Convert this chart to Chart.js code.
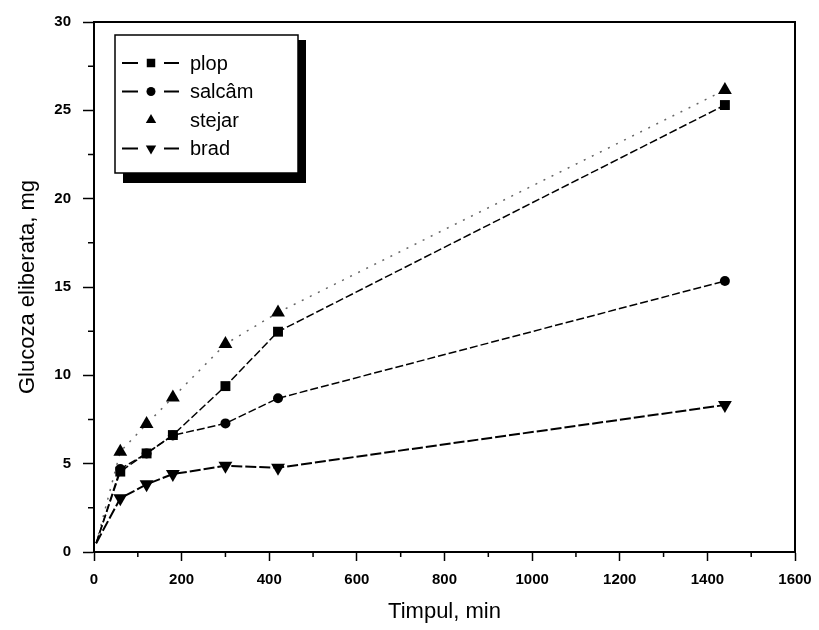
<!DOCTYPE html>
<html>
<head>
<meta charset="utf-8">
<script src="https://cdn.jsdelivr.net/npm/chart.js"></script>
<style>
  body { margin: 0; background: #fff; }
  canvas { display: block; }
</style>
</head>
<body>
<canvas id="chart" width="819" height="630"></canvas>
<script>
// time points (min) and released glucose (mg)
const times = [5, 60, 120, 180, 300, 420, 1440];
const plop = [0.5, 4.55, 5.58, 6.62, 9.39, 12.47, 25.3];
const salcam = [0.5, 4.7, 5.58, 6.6, 7.28, 8.7, 15.34];
const stejar = [0.5, 5.68, 7.24, 8.75, 11.77, 13.56, 26.15];
const brad = [0.5, 3.04, 3.83, 4.41, 4.88, 4.77, 8.32];

const seriesNames = ['plop', 'salcâm', 'stejar', 'brad'];
const xTicks = [0, 200, 400, 600, 800, 1000, 1200, 1400, 1600];
const yTicks = [0, 5, 10, 15, 20, 25, 30];

const toPoints = vals => times.map((t, i) => ({ x: t, y: vals[i] }));
const hideFirst = r => ctx => (ctx.dataIndex === 0 ? 0 : r);

const styles = [
    { pointStyle: 'rect', radius: 7, rotation: 0, dash: [8, 3], width: 1.5, color: '#000' },
    { pointStyle: 'circle', radius: 5, rotation: 0, dash: [8, 3], width: 1.5, color: '#000' },
    { pointStyle: 'triangle', radius: 8, rotation: 0, dash: [2, 7], width: 1.5, color: '#666' },
    { pointStyle: 'triangle', radius: 8, rotation: 180, dash: [11, 3], width: 2, color: '#000' },
];

const datasets = [plop, salcam, stejar, brad].map((vals, i) => ({
    label: seriesNames[i],
    data: toPoints(vals),
    showLine: true,
    borderColor: styles[i].color,
    borderWidth: styles[i].width,
    borderDash: styles[i].dash,
    backgroundColor: '#000',
    pointBackgroundColor: '#000',
    pointBorderColor: '#000',
    pointBorderWidth: 0,
    pointStyle: styles[i].pointStyle,
    pointRotation: styles[i].rotation,
    pointRadius: hideFirst(styles[i].radius),
    pointHoverRadius: hideFirst(styles[i].radius),
}));

// frame, minor ticks and the boxed legend with drop shadow
const framePlugin = {
    id: 'frame',
    afterDraw(chart) {
        const { ctx, chartArea: a, scales } = chart;
        ctx.save();
        ctx.strokeStyle = '#000';
        ctx.lineWidth = 2;
        ctx.beginPath();
        ctx.moveTo(a.left, a.top);
        ctx.lineTo(a.right, a.top);
        ctx.lineTo(a.right, a.bottom);
        ctx.stroke();

        ctx.lineWidth = 1.5;
        ctx.beginPath();
        for (let v = 2.5; v < 30; v += 5) {
            const y = scales.y.getPixelForValue(v);
            ctx.moveTo(a.left, y);
            ctx.lineTo(a.left - 6, y);
        }
        for (let v = 100; v < 1600; v += 200) {
            const x = scales.x.getPixelForValue(v);
            ctx.moveTo(x, a.bottom);
            ctx.lineTo(x, a.bottom + 5);
        }
        ctx.stroke();

        // legend
        const bx = 115, by = 35, bw = 183, bh = 138;
        ctx.fillStyle = '#000';
        ctx.fillRect(bx + 8, by + 5, bw, bh + 5);
        ctx.fillStyle = '#fff';
        ctx.fillRect(bx, by, bw, bh);
        ctx.strokeStyle = '#000';
        ctx.lineWidth = 1.5;
        ctx.strokeRect(bx, by, bw, bh);

        ctx.font = '20px "Liberation Sans", Arial, sans-serif';
        ctx.textBaseline = 'middle';
        ctx.textAlign = 'left';
        seriesNames.forEach((name, i) => {
            const s = styles[i];
            const y = 63 + i * 28.5;
            if (i !== 2) {
                ctx.strokeStyle = '#000';
                ctx.lineWidth = 2;
                ctx.setLineDash([]);
                ctx.beginPath();
                ctx.moveTo(122, y);
                ctx.lineTo(138, y);
                ctx.moveTo(164, y);
                ctx.lineTo(179, y);
                ctx.stroke();
            }
            ctx.fillStyle = '#000';
            Chart.helpers.drawPoint(ctx, {
                pointStyle: s.pointStyle,
                radius: s.pointStyle === 'triangle' ? 6 : (s.pointStyle === 'rect' ? 6 : 4.5),
                rotation: s.rotation,
                borderWidth: 0,
            }, 151, y);
            ctx.fillStyle = '#000';
            ctx.fillText(name, 190, y + 1);
        });
        ctx.restore();
    }
};

const tickFont = { family: '"Liberation Sans", Arial, sans-serif', size: 15, weight: 'bold' };
const titleFont = { family: '"Liberation Sans", Arial, sans-serif', size: 22 };

new Chart(document.getElementById('chart'), {
    type: 'scatter',
    data: { datasets },
    options: {
        responsive: false,
        animation: false,
        layout: { padding: { top: 22, right: 24, left: 0, bottom: 0 } },
        plugins: {
            legend: { display: false },
            tooltip: { enabled: false },
        },
        scales: {
            x: {
                type: 'linear',
                min: 0,
                max: 1600,
                afterBuildTicks: scale => { scale.ticks = xTicks.map(v => ({ value: v })); },
                afterFit: scale => { scale.height = 78; scale.paddingRight = 0; scale.paddingLeft = 0; },
                ticks: { color: '#000', font: tickFont, padding: 10, maxRotation: 0, callback: v => String(v) },
                grid: { drawOnChartArea: false, tickLength: 9, tickColor: '#000', tickWidth: 1.5 },
                border: { color: '#000', width: 2 },
                title: { display: true, text: 'Timpul, min', color: '#000', font: titleFont, padding: { top: 0, bottom: 5 } },
            },
            y: {
                type: 'linear',
                min: 0,
                max: 30,
                afterBuildTicks: scale => { scale.ticks = yTicks.map(v => ({ value: v })); },
                afterFit: scale => { scale.width = 94; },
                ticks: { color: '#000', font: tickFont, padding: 12, callback: v => String(v) },
                grid: { drawOnChartArea: false, tickLength: 11, tickColor: '#000', tickWidth: 1.5 },
                border: { color: '#000', width: 2 },
                title: { display: true, text: 'Glucoza eliberata, mg', color: '#000', font: titleFont, padding: { top: 15, bottom: 0 } },
            },
        },
    },
    plugins: [framePlugin],
});
</script>
</body>
</html>
